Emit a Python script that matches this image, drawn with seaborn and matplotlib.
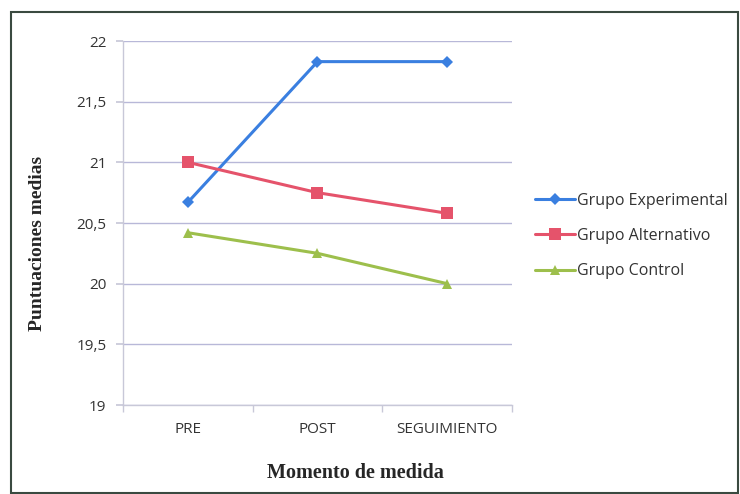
import matplotlib
matplotlib.use("Agg")
import matplotlib.pyplot as plt
import seaborn as sns
import pandas as pd
from matplotlib.ticker import FuncFormatter, FixedLocator
from matplotlib.patches import Rectangle

categories = ["PRE", "POST", "SEGUIMIENTO"]
grupo_experimental = [20.67, 21.83, 21.83]
grupo_alternativo = [21.0, 20.75, 20.58]
grupo_control = [20.42, 20.25, 20.0]
series_names = ["Grupo Experimental", "Grupo Alternativo", "Grupo Control"]

rows = []
for name, vals in zip(series_names, [grupo_experimental, grupo_alternativo, grupo_control]):
    for i, (c, v) in enumerate(zip(categories, vals)):
        rows.append({"momento": i, "cat": c, "valor": v, "grupo": name})
df = pd.DataFrame(rows)

sns.set_theme(style="white")
plt.rcParams['font.family'] = ['Open Sans', 'DejaVu Sans']

W, H = 740, 494
fig = plt.figure(figsize=(7.4, 4.94), dpi=100)
ax = fig.add_axes([123 / W, 1 - 405 / H, (512 - 123) / W, (405 - 41) / H])

palette = {"Grupo Experimental": "#3A7FE0", "Grupo Alternativo": "#E5536B", "Grupo Control": "#9DBF4C"}
markers = {"Grupo Experimental": "D", "Grupo Alternativo": "s", "Grupo Control": "^"}
sizes_m = {"Grupo Experimental": 6, "Grupo Alternativo": 8, "Grupo Control": 7.5}

for name in series_names:
    sub = df[df.grupo == name]
    sns.lineplot(data=sub, x="momento", y="valor", ax=ax, color=palette[name],
                 marker=markers[name], markersize=sizes_m[name], markeredgewidth=0,
                 linewidth=2.2, label=name)

ax.set_xlim(-0.5, 2.5)
ax.set_ylim(19, 22)
ax.yaxis.set_major_locator(FixedLocator([19, 19.5, 20, 20.5, 21, 21.5, 22]))
ax.yaxis.set_major_formatter(FuncFormatter(lambda v, p: (f"{v:g}").replace(".", ",")))
ax.set_xticks([0, 1, 2])
ax.set_xticklabels(categories)
ax.set_xticks([-0.5, 0.5, 1.5, 2.5], minor=True)
ax.grid(axis="y", color="#B8B8D8", linewidth=1)
ax.set_axisbelow(True)
for s in ["top", "right"]:
    ax.spines[s].set_visible(False)
for s in ["left", "bottom"]:
    ax.spines[s].set_color("#C8C8D8")
    ax.spines[s].set_linewidth(1)
ax.tick_params(axis="y", which="major", length=5, color="#C8C8D8", labelsize=11, pad=7, labelcolor="#333333", left=True)
ax.tick_params(axis="x", which="major", length=0, labelsize=11, pad=12, labelcolor="#333333")
ax.tick_params(axis="x", which="minor", length=5, color="#C8C8D8", bottom=True)

ax.set_xlabel("Momento de medida", fontfamily="Liberation Serif", fontweight="bold", fontsize=14.5)
ax.set_ylabel("Puntuaciones medias", fontfamily="Liberation Serif", fontweight="bold", fontsize=14)
ax.xaxis.set_label_coords((355 - 123) / (512 - 123), -(473 - 405) / (405 - 41))
ax.xaxis.label.set_va("center")
ax.yaxis.set_label_coords(-(123 - 37) / (512 - 123), (405 - 243) / (405 - 41))
ax.yaxis.label.set_va("center")

leg = ax.legend(loc="center left", bbox_to_anchor=(535 / W, 1 - 236 / H), bbox_transform=fig.transFigure,
                frameon=False, fontsize=11.5, borderpad=0, borderaxespad=0,
                handlelength=2.5, handletextpad=0.15, labelspacing=1.2)
for t in leg.get_texts():
    t.set_color("#333333")

fig.patches.append(Rectangle((11 / W, 1 / H), 727 / W, (481) / H, transform=fig.transFigure,
                             fill=False, edgecolor="#3A4A40", linewidth=1.5))

fig.savefig("out.png", dpi=100)
